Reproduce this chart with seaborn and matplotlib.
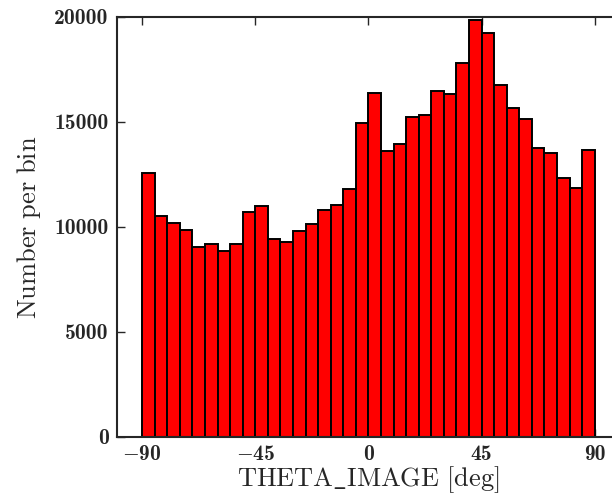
import numpy as np
import pandas as pd
import matplotlib
matplotlib.use("Agg")
import matplotlib.pyplot as plt
import seaborn as sns

# Counts per 5-degree bin of THETA_IMAGE, from -90 to +90 deg
counts = [12560, 10520, 10180, 9860, 9030, 9210, 8840, 9190, 10710, 11020,
          9410, 9270, 9810, 10130, 10790, 11060, 11790, 14940, 16400, 13640,
          13970, 15220, 15320, 16480, 16350, 17830, 19840, 19250, 16740, 15650,
          15140, 13780, 13520, 12350, 11860, 13680]
bin_edges = np.linspace(-90, 90, len(counts) + 1)
bin_centers = 0.5 * (bin_edges[:-1] + bin_edges[1:])

x_ticks = [-90, -45, 0, 45, 90]
x_tick_labels = [r"$-$90", r"$-$45", "0", "45", "90"]
y_ticks = [0, 5000, 10000, 15000, 20000]
y_tick_labels = ["0", "5000", "10000", "15000", "20000"]

df = pd.DataFrame({"theta": bin_centers, "count": counts})

sns.set_style("ticks")
plt.rcParams["font.family"] = ["cmr10", "DejaVu Serif"]
plt.rcParams["mathtext.fontset"] = "cm"

fig = plt.figure(figsize=(6.12, 4.98), dpi=100)
ax = fig.add_axes([0.1912, 0.1225, 0.8216, 0.8434])

sns.histplot(data=df, x="theta", weights="count", bins=list(bin_edges), ax=ax,
             color="#ff0000", edgecolor="black", linewidth=1.4, alpha=1.0)

ax.set_xlim(-100, 100)
ax.set_ylim(0, 20000)
ax.set_xticks(x_ticks)
ax.set_xticklabels(x_tick_labels)
ax.set_yticks(y_ticks)
ax.set_yticklabels(y_tick_labels)
ax.tick_params(direction="in", top=True, right=True, length=6, width=1.0,
               labelsize=15.5, pad=6)
for lab in ax.get_xticklabels() + ax.get_yticklabels():
    lab.set_fontfamily("cmb10")
for s in ax.spines.values():
    s.set_linewidth(1.5)
    s.set_visible(True)

ax.set_xlabel(r"$\mathrm{THETA\_IMAGE\ [deg]}$", fontsize=19, labelpad=0)
ax.set_ylabel(r"$\mathrm{Number\ per\ bin}$", fontsize=19, labelpad=8)

fig.savefig("out.png", dpi=100)
